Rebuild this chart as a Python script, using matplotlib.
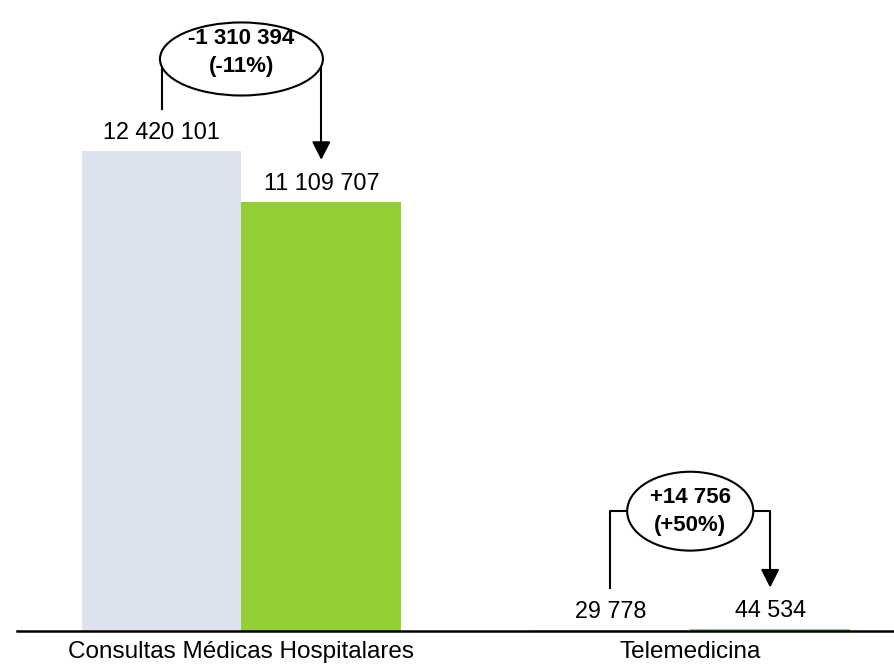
import matplotlib.pyplot as plt
import numpy as np
from matplotlib.patches import Ellipse

plt.rcParams['font.family'] = ['Liberation Sans', 'DejaVu Sans']

categories = ['Consultas Médicas Hospitalares', 'Telemedicina']
values_before = [12420101, 29778]
values_after = [11109707, 44534]
labels_before = ['12 420 101', '29 778']
labels_after = ['11 109 707', '44 534']
diff_labels = ['-1 310 394\n(-11%)', '+14 756\n(+50%)']

color_before = '#dce3ee'
color_after = '#92d036'

fig = plt.figure(figsize=(8.94, 6.65), dpi=100)
ax = fig.add_axes([17 / 894, 34 / 665, 877 / 894, 631 / 665])

x = np.arange(len(categories))
w = 0.356
ax.bar(x - w / 2, values_before, w, color=color_before)
ax.bar(x + w / 2, values_after, w, color=color_after)

ax.set_xlim(-0.5, 1.454)
ax.set_ylim(0, 631 / 38.65 * 1e6)

for i in range(len(categories)):
    ax.annotate(labels_before[i], (x[i] - w / 2, values_before[i]), xytext=(0, 5),
                textcoords='offset points', ha='center', va='bottom', fontsize=16.8)
    ax.annotate(labels_after[i], (x[i] + w / 2, values_after[i]), xytext=(0, 5),
                textcoords='offset points', ha='center', va='bottom', fontsize=16.8)

# difference bubbles
ell_y = [14.8e6, 3.1e6]
ell_w = [0.363, 0.281]
ell_h = [1.89e6, 2.04e6]
txt_dy = [0.17e6, 0.0]
gap = 1.08e6
for i in range(len(categories)):
    cx, cy = x[i], ell_y[i]
    ax.add_patch(Ellipse((cx, cy), ell_w[i], ell_h[i], facecolor='white',
                         edgecolor='black', lw=1.5, zorder=3))
    ax.text(cx, cy + txt_dy[i], diff_labels[i], ha='center', va='center', fontsize=16,
            fontweight='bold', linespacing=1.45, zorder=4)
    xl = x[i] - w / 2
    xr = x[i] + w / 2
    ax.plot([xl, xl, cx - ell_w[i] / 2], [values_before[i] + gap, cy, cy],
            color='black', lw=1.5, zorder=2)
    ax.plot([cx + ell_w[i] / 2, xr, xr], [cy, cy, values_after[i] + gap + 0.35e6],
            color='black', lw=1.5, zorder=2)
    ax.annotate('', xy=(xr, values_after[i] + gap), xytext=(xr, values_after[i] + gap + 0.4e6),
                arrowprops=dict(arrowstyle='-|>,head_length=0.55,head_width=0.28',
                                mutation_scale=20, color='black', lw=1.5,
                                shrinkA=0, shrinkB=0))

ax.set_xticks(x)
ax.set_xticklabels(categories, fontsize=17.5)
ax.tick_params(axis='x', length=0, pad=7)
ax.set_yticks([])
for s in ['top', 'right', 'left']:
    ax.spines[s].set_visible(False)
ax.spines['bottom'].set_linewidth(1.8)

fig.savefig('out.png', dpi=100)
